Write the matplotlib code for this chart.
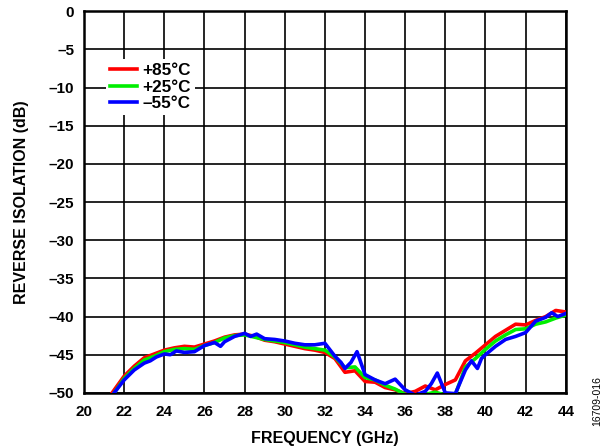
import numpy as np
import matplotlib.pyplot as plt

plt.rcParams['font.family'] = ['Liberation Sans', 'DejaVu Sans']
plt.rcParams['font.weight'] = 'bold'

# Datos (frecuencia en GHz, aislamiento en dB)
freq_red = [21.4, 22.0, 22.5, 23.0, 23.5, 24.0, 24.5, 25.0, 25.5, 26.0, 26.5, 27.0, 27.5, 28.0,
            28.5, 29.0, 29.5, 30.0, 30.5, 31.0, 31.5, 32.0, 32.5, 33.0, 33.5, 34.0, 34.5, 35.0,
            35.5, 36.0, 36.5, 37.0, 37.5, 38.0, 38.5, 39.0, 39.5, 40.0, 40.5, 41.0, 41.5, 42.0,
            42.5, 43.0, 43.5, 44.0]
iso_red = [-50.0, -47.8, -46.5, -45.4, -44.9, -44.4, -44.1, -43.9, -44.0, -43.6, -43.2, -42.7, -42.4, -42.3,
           -42.6, -43.1, -43.3, -43.6, -43.9, -44.2, -44.4, -44.7, -45.5, -47.3, -47.1, -48.5, -48.6, -49.3,
           -49.6, -50.1, -49.8, -49.1, -49.6, -48.9, -48.3, -45.8, -44.8, -43.7, -42.6, -41.8, -41.0, -41.1,
           -40.5, -40.0, -39.2, -39.4]

freq_green = [21.5, 22.0, 22.5, 23.0, 23.5, 24.0, 24.5, 25.0, 25.5, 26.0, 26.5, 27.0, 27.5, 28.0,
              28.5, 29.0, 29.5, 30.0, 30.5, 31.0, 31.5, 32.0, 32.5, 33.0, 33.5, 34.0, 34.5, 35.0,
              35.5, 36.0, 36.5, 37.0, 37.5, 38.0, 38.5, 39.0, 39.5, 40.0, 40.5, 41.0, 41.5, 42.0,
              42.5, 43.0, 43.5, 44.0]
iso_green = [-50.0, -48.1, -46.8, -45.7, -45.2, -44.6, -44.3, -44.2, -44.3, -43.8, -43.4, -42.8, -42.5, -42.4,
             -42.7, -43.0, -43.2, -43.4, -43.7, -44.0, -44.2, -44.4, -45.3, -46.7, -46.6, -48.0, -48.3, -49.0,
             -49.5, -50.2, -50.3, -50.2, -49.9, -50.3, -50.2, -46.6, -45.5, -44.3, -43.2, -42.4, -41.7, -41.6,
             -41.0, -40.7, -40.2, -39.8]

freq_blue = [21.5, 22.0, 22.5, 23.0, 23.3, 23.6, 24.0, 24.3, 24.6, 25.0, 25.5, 26.0, 26.5, 26.8, 27.0,
             27.5, 28.0, 28.3, 28.6, 29.0, 29.5, 30.0, 30.5, 31.0, 31.5, 32.0, 32.5, 32.8, 33.0, 33.3,
             33.6, 34.0, 34.5, 35.0, 35.5, 36.0, 36.5, 37.0, 37.3, 37.6, 38.0, 38.5, 39.0, 39.3, 39.6,
             39.8, 40.0, 40.5, 41.0, 41.5, 42.0, 42.5, 43.0, 43.3, 43.6, 44.0]
iso_blue = [-50.0, -48.3, -47.0, -46.1, -45.8, -45.3, -44.9, -45.0, -44.5, -44.7, -44.6, -43.8, -43.4, -43.9, -43.3,
            -42.6, -42.2, -42.6, -42.3, -42.9, -43.0, -43.2, -43.5, -43.7, -43.7, -43.5, -45.2, -46.0, -46.8, -46.0,
            -44.6, -47.6, -48.3, -48.8, -48.2, -49.6, -50.3, -49.8, -48.8, -47.4, -50.0, -50.1, -47.0, -45.8, -46.8,
            -45.5, -45.0, -43.9, -43.0, -42.6, -42.1, -40.6, -40.1, -39.5, -40.0, -39.6]

fig = plt.figure(figsize=(6.09, 4.48), dpi=100)
ax = fig.add_axes([0.138, 0.123, 0.791, 0.852])

ax.plot(freq_red, iso_red, color='#ff0000', lw=2.6, label='+85°C', zorder=3)
ax.plot(freq_green, iso_green, color='#00ee00', lw=2.6, label='+25°C', zorder=4)
ax.plot(freq_blue, iso_blue, color='#0000ff', lw=2.6, label='\u201355°C', zorder=5)

ax.set_xlim(20, 44)
ax.set_ylim(-50, 0)
ax.set_xticks(np.arange(20, 45, 2))
ax.set_yticks(np.arange(-50, 1, 5))
ax.set_yticklabels(['\u2013%d' % abs(v) if v < 0 else '0' for v in range(-50, 1, 5)])
ax.grid(True, color='black', lw=1.2)
ax.tick_params(direction='in', length=0, labelsize=11)
ax.tick_params(axis='x', pad=9)
ax.tick_params(axis='y', pad=7)
for s in ax.spines.values():
    s.set_linewidth(1.8)

ax.set_xlabel('FREQUENCY (GHz)', fontsize=11.5, fontweight='bold', labelpad=8)
ax.set_ylabel('REVERSE ISOLATION (dB)', fontsize=11.5, fontweight='bold', labelpad=14)

leg = ax.legend(loc='upper left', bbox_to_anchor=(0.045, 0.875), frameon=True, fontsize=12.3,
                handlelength=1.6, handletextpad=0.3, labelspacing=0.08, borderpad=0.25,
                borderaxespad=0)
leg.get_frame().set_edgecolor('none')
leg.get_frame().set_facecolor('white')
leg.get_frame().set_alpha(1)
leg.get_frame().set_boxstyle('square', pad=0)
leg.set_zorder(6)

fig.text(0.98, 0.105, '16709-016', rotation=90, fontsize=7.5, fontweight='normal',
         ha='center', va='center')

fig.savefig('out.png', dpi=100)
